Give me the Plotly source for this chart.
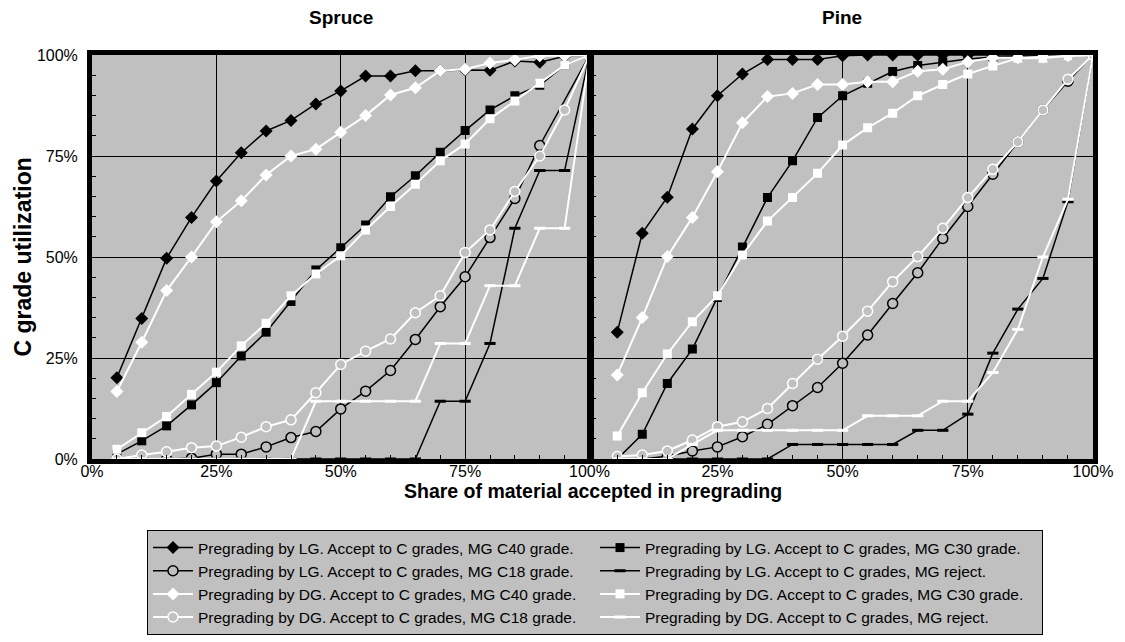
import plotly.graph_objects as go

# Share of material accepted in pregrading (%)
share = [5, 10, 15, 20, 25, 30, 35, 40, 45, 50, 55, 60, 65, 70, 75, 80, 85, 90, 95, 100]

# Spruce: C grade utilization (%)
spruce_lg_c40 = [20.1, 34.8, 49.7, 59.8, 68.8, 75.8, 81.2, 83.8, 87.9, 91.1, 94.8, 94.8, 96.1, 96.1, 96.3, 96.2, 98.5, 98.2, 99.7, 100]
spruce_lg_c30 = [1.2, 4.5, 8.2, 13.4, 18.9, 25.5, 31.4, 39.0, 46.8, 52.3, 57.9, 64.9, 70.1, 75.9, 81.3, 86.4, 89.9, 92.5, 97.5, 100]
spruce_lg_c18 = [0, 0, 0, 0.2, 1.2, 1.2, 3.0, 5.3, 6.8, 12.4, 16.8, 21.9, 29.6, 37.7, 45.1, 54.8, 64.5, 77.6, None, 100]
spruce_lg_rej = [0, 0, 0, 0, 0, 0, 0, 0, 0, 0, 0, 0, 0, 14.3, 14.3, 28.6, 57.1, 71.4, 71.4, 100]
spruce_dg_c40 = [16.7, 28.9, 41.7, 50.0, 58.7, 63.9, 70.3, 75.0, 76.7, 80.9, 85.0, 90.1, 91.9, 96.1, 96.5, 98.0, 98.8, 99.8, 99.8, 100]
spruce_dg_c30 = [2.4, 6.5, 10.5, 16.0, 21.5, 28.0, 33.6, 40.4, 45.8, 50.3, 56.7, 62.5, 68.0, 73.8, 78.0, 84.2, 88.6, 93.0, 97.5, 100]
spruce_dg_c18 = [0, 1.0, 1.8, 2.8, 3.2, 5.4, 8.0, 9.7, 16.4, 23.4, 26.7, 29.7, 36.2, 40.4, 51.1, 56.7, 66.2, 75.0, 86.4, 100]
spruce_dg_rej = [0, 0, 0, 0, 0, 0, 0, 0, 14.3, 14.3, 14.3, 14.3, 14.3, 28.6, 28.6, 42.9, 42.9, 57.1, 57.1, 100]

# Pine: C grade utilization (%)
pine_lg_c40 = [31.4, 55.9, 64.8, 81.7, 89.9, 95.3, 98.9, 98.9, 98.9, 99.8, 100, 100, 100, 100, 100, 100, 100, 100, 100, 100]
pine_lg_c30 = [0, 6.1, 18.7, 27.2, 40.0, 52.5, 64.7, 73.8, 84.5, 89.9, 93.0, 95.9, 97.4, 98.2, 99.0, 99.5, 99.7, 99.8, 100, 100]
pine_lg_c18 = [0, 0, 0.7, 2.0, 3.0, 5.5, 8.6, 13.2, 17.7, 23.7, 30.7, 38.5, 46.1, 54.6, 62.5, 70.5, 78.5, 86.4, 93.5, 100]
pine_lg_rej = [0, 0, 0, 0, 0, 0, 0, 3.6, 3.6, 3.6, 3.6, 3.6, 7.1, 7.1, 11.1, 26.2, 37.1, 44.7, 63.7, 100]
pine_dg_c40 = [20.8, 35.0, 50.1, 59.8, 71.1, 83.2, 89.7, 90.5, 92.7, 92.7, 93.4, 93.4, 96.0, 96.5, 98.3, 99.3, 99.3, 99.5, 99.8, 100]
pine_dg_c30 = [5.7, 16.4, 26.0, 34.0, 40.4, 50.5, 58.9, 64.7, 70.7, 77.7, 82.0, 85.6, 89.9, 92.7, 95.3, 97.3, 99.2, 99.2, 99.8, 100]
pine_dg_c18 = [0.6, 1.0, 2.0, 4.7, 8.0, 9.2, 12.5, 18.7, 24.7, 30.4, 36.6, 43.9, 50.1, 57.1, 64.7, 71.7, 78.5, 86.4, 94.0, 100]
pine_dg_rej = [0, 0, 0, 3.6, 7.1, 7.1, 7.1, 7.1, 7.1, 7.1, 10.7, 10.7, 10.7, 14.3, 14.3, 21.4, 32.1, 50.0, 64.3, 100]

# Axis tick values and labels
tick_vals = [0, 25, 50, 75, 100]
tick_text = ["0%", "25%", "50%", "75%", "100%"]

series_names = [
    "Pregrading by LG. Accept to C grades, MG C40 grade.",
    "Pregrading by LG. Accept to C grades, MG C30 grade.",
    "Pregrading by LG. Accept to C grades, MG C18 grade.",
    "Pregrading by LG. Accept to C grades, MG reject.",
    "Pregrading by DG. Accept to C grades, MG C40 grade.",
    "Pregrading by DG. Accept to C grades, MG C30 grade.",
    "Pregrading by DG. Accept to C grades, MG C18 grade.",
    "Pregrading by DG. Accept to C grades, MG reject.",
]
spruce_series = [spruce_lg_c40, spruce_lg_c30, spruce_lg_c18, spruce_lg_rej,
                 spruce_dg_c40, spruce_dg_c30, spruce_dg_c18, spruce_dg_rej]
pine_series = [pine_lg_c40, pine_lg_c30, pine_lg_c18, pine_lg_rej,
               pine_dg_c40, pine_dg_c30, pine_dg_c18, pine_dg_rej]

GRAY = "#C0C0C0"
FONT = "Liberation Sans, Arial, sans-serif"


def style(i):
    color = "black" if i < 4 else "white"
    kind = i % 4
    lw = 1.5 if color == "black" else 2
    if kind == 0:
        marker = dict(symbol="diamond", size=10, color=color, line=dict(width=0))
    elif kind == 1:
        marker = dict(symbol="square", size=9, color=color, line=dict(width=0))
    elif kind == 2:
        marker = dict(symbol="circle", size=10, color=GRAY, line=dict(width=1.5, color=color))
    else:
        marker = dict(symbol="line-ew", size=8, color=color, line=dict(width=3, color=color))
    return dict(line=dict(color=color, width=lw), marker=marker)


fig = go.Figure()
for i, (name, ys) in enumerate(zip(series_names, spruce_series)):
    fig.add_trace(go.Scatter(x=share, y=ys, name=name, mode="lines+markers",
                             connectgaps=True, xaxis="x", yaxis="y",
                             legendgroup=name, showlegend=True, **style(i)))
for i, (name, ys) in enumerate(zip(series_names, pine_series)):
    fig.add_trace(go.Scatter(x=share, y=ys, name=name, mode="lines+markers",
                             connectgaps=True, xaxis="x2", yaxis="y2",
                             legendgroup=name, showlegend=False, **style(i)))

axis_common = dict(
    range=[0, 100], showline=True, mirror=True, linewidth=5, linecolor="black",
    showgrid=True, gridcolor="black", gridwidth=1, zeroline=False,
    ticks="inside", ticklen=4, tickcolor="black", tickwidth=1,
    minor=dict(dtick=5, ticks="inside", ticklen=4, tickcolor="black", showgrid=False),
    tickfont=dict(family=FONT, size=16, color="black"),
)

fig.update_layout(
    width=1125, height=642, autosize=False,
    margin=dict(l=92, r=25, t=55, b=183),
    paper_bgcolor="white", plot_bgcolor=GRAY,
    font=dict(family=FONT, color="black"),
    xaxis=dict(domain=[0, 0.497], anchor="y", tickvals=tick_vals, ticktext=tick_text,
               ticklabelstandoff=-6, **axis_common),
    yaxis=dict(domain=[0, 1], anchor="x", tickvals=tick_vals, ticktext=tick_text,
               ticklabelstandoff=6, **axis_common),
    xaxis2=dict(domain=[0.4997, 1], anchor="y2", tickvals=tick_vals[1:], ticktext=tick_text[1:],
                ticklabelstandoff=-6, **axis_common),
    yaxis2=dict(domain=[0, 1], anchor="x2", tickvals=tick_vals,
                showticklabels=False, **axis_common),
    legend=dict(
        orientation="h", xref="container", yref="container",
        x=147 / 1125, y=1 - 530 / 642, xanchor="left", yanchor="top",
        bgcolor=GRAY, bordercolor="black", borderwidth=1,
        font=dict(family=FONT, size=15.5, color="black"),
        itemwidth=40, entrywidth=392, entrywidthmode="pixels", traceorder="normal",
    ),
    annotations=[
        dict(text="<b>Spruce</b>", xref="paper", yref="paper", x=0.249, y=1.0916,
             xanchor="center", yanchor="middle", showarrow=False, font=dict(family=FONT, size=19)),
        dict(text="<b>Pine</b>", xref="paper", yref="paper", x=0.749, y=1.0916,
             xanchor="center", yanchor="middle", showarrow=False, font=dict(family=FONT, size=19)),
        dict(text="<b>Share of material accepted in pregrading</b>", xref="paper", yref="paper",
             x=0.5, y=-0.0792, xanchor="center", yanchor="middle", showarrow=False,
             font=dict(family=FONT, size=19.5)),
        dict(text="<b>C grade utilization</b>", xref="paper", yref="paper",
             x=-0.0694, y=0.5, xanchor="center", yanchor="middle", textangle=-90,
             showarrow=False, font=dict(family=FONT, size=23)),
    ],
)

fig.write_html("out.html")
